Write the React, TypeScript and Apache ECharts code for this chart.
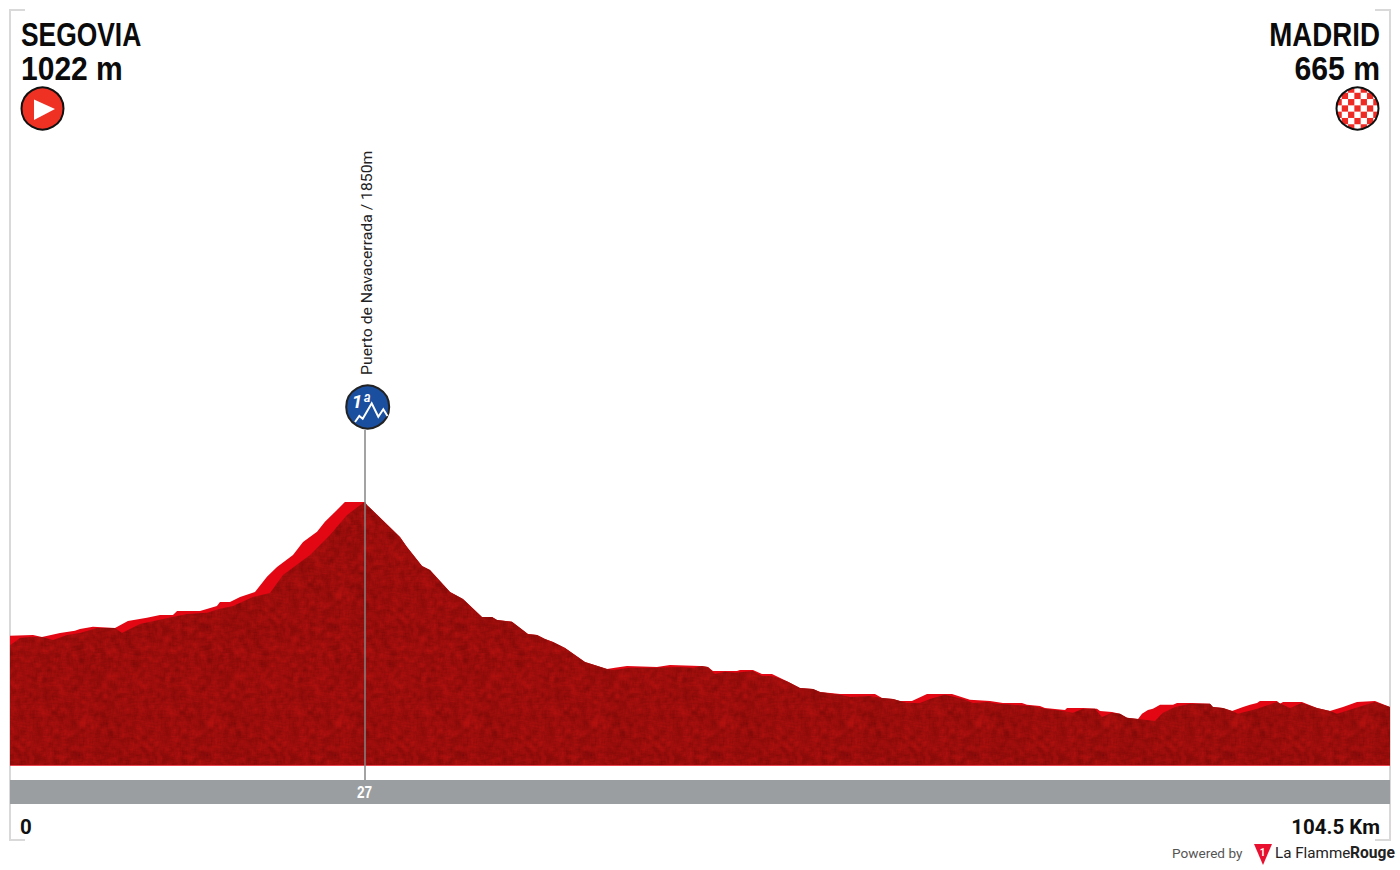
import React, { useEffect, useRef } from "react";
import * as echarts from "echarts";

type Pt = [number, number];

const startName = "SEGOVIA";
const startElevation = "1022 m";
const finishName = "MADRID";
const finishElevation = "665 m";
const climbLabel = "Puerto de Navacerrada / 1850m";
const climbBadge = "1ª";
const climbKmLabel = "27";
const climbKm = 26.88;
const startKmLabel = "0";
const finishKmLabel = "104.5 Km";
const totalKm = 104.5;

const climbBright: Pt[] = [
  [0, 1076], [1.74, 1081], [2.42, 1070], [3.79, 1093], [4.92, 1105], [5.3, 1116], [6.28, 1128], [7.95, 1122],
  [8.93, 1162], [10.37, 1180], [11.36, 1197], [12.34, 1197], [12.65, 1220], [14.39, 1220], [15.67, 1249],
  [15.9, 1272], [16.66, 1272], [17.42, 1301], [18.55, 1330], [19.46, 1417], [20.22, 1474], [21.43, 1544],
  [22.19, 1619], [23.25, 1677], [23.85, 1735], [24.76, 1804], [25.36, 1850], [26.88, 1850],
];
const climbDark: Pt[] = [
  [0, 1022], [0.76, 1064], [1.51, 1070], [2.42, 1070], [3.26, 1052], [4.32, 1081], [5.3, 1093], [6.59, 1122],
  [7.95, 1122], [8.48, 1093], [9.84, 1145], [11.59, 1174], [13.4, 1203], [14.92, 1209], [15.9, 1232],
  [16.89, 1249], [18.4, 1301], [19.69, 1324], [20.67, 1428], [22.72, 1544], [24.23, 1659], [25.52, 1775],
  [26.73, 1844], [26.88, 1850],
];
const descent: Pt[] = [
  [27.03, 1833], [27.64, 1787], [29.53, 1648], [30.06, 1590], [31.2, 1480], [31.8, 1457], [33.32, 1330],
  [34.3, 1289], [35.74, 1185], [36.5, 1185], [36.88, 1168], [38.01, 1157], [39.22, 1087], [39.91, 1081],
  [40.51, 1058], [41.12, 1041], [42.03, 1006], [43.54, 925], [45.21, 885],
];
const flatBright: Pt[] = [
  [45.81, 891], [46.72, 902], [48.99, 896], [49.98, 908], [52.25, 902], [52.85, 896], [53.23, 873], [55.05, 873],
  [55.28, 879], [56.26, 879], [56.94, 856], [57.7, 856], [58.91, 810], [59.82, 775], [60.81, 769], [61.34, 752],
  [62.85, 740], [65.5, 740], [66.03, 717], [66.87, 711], [67.39, 700], [68.3, 700], [69.44, 740], [71.33, 740],
  [72.69, 706], [74.21, 700], [75.19, 688], [76.63, 688], [77.01, 677], [77.99, 671], [78.37, 659], [79.89, 648],
  [80.04, 659], [81.25, 659], [82.31, 654], [82.54, 642], [83.44, 636], [84.05, 625], [84.58, 602], [85.42, 596],
  [85.72, 625], [86.17, 648], [86.55, 654], [87.09, 677], [88.07, 677], [88.37, 688], [89.51, 688], [90.87, 683],
  [91.09, 665], [91.85, 659], [92.54, 642], [93.37, 665], [93.9, 677], [94.43, 688], [94.65, 700], [95.94, 700],
  [96.17, 683], [96.4, 694], [97.83, 694], [98.97, 659], [99.95, 642], [100.94, 665], [102.0, 694], [103.36, 700],
  [104.5, 665],
];
const flatDark: Pt[] = [
  [45.66, 879], [46.95, 891], [48.69, 891], [50.73, 896], [51.72, 891], [52.4, 902], [52.85, 896], [53.39, 856],
  [54.14, 868], [54.9, 862], [56.26, 873], [56.94, 844], [57.55, 844], [57.93, 839], [58.91, 810], [59.82, 775],
  [60.81, 769], [61.34, 752], [62.85, 735], [63.61, 723], [65.12, 729], [66.03, 717], [66.87, 711], [67.92, 688],
  [68.91, 688], [69.66, 711], [70.8, 735], [72.16, 711], [72.92, 688], [73.98, 694], [74.74, 683], [75.95, 677],
  [77.46, 671], [78.37, 654], [79.74, 642], [80.49, 631], [81.25, 654], [82.16, 654], [82.69, 607], [83.44, 631],
  [84.05, 625], [84.58, 602], [85.42, 596], [86.7, 584], [87.31, 631], [88.22, 665], [89.36, 683], [90.87, 683],
  [91.09, 665], [91.85, 659], [92.54, 642], [92.99, 625], [94.43, 654], [95.94, 694], [96.93, 659], [97.83, 688],
  [98.97, 659], [99.95, 642], [100.48, 625], [101.7, 654], [103.36, 694], [104.5, 665],
];

const RED = "#e30613";
const TITLE_FONT = '"Liberation Sans", sans-serif';

// Mottled fill for the dark face of the profile: a fixed hash texture, not data.
function speckleTile(): HTMLCanvasElement {
  const size = 128;
  const c = document.createElement("canvas");
  c.width = size;
  c.height = size;
  const ctx = c.getContext("2d")!;
  const hash = (x: number, y: number) => {
    const v = Math.sin(((x + size) % size) * 12.9898 + ((y + size) % size) * 78.233) * 43758.5453;
    return v - Math.floor(v);
  };
  const img = ctx.createImageData(size, size);
  for (let y = 0; y < size; y++) {
    for (let x = 0; x < size; x++) {
      let sum = 0;
      for (let dy = -2; dy <= 2; dy++) for (let dx = -2; dx <= 2; dx++) sum += hash(x + dx, y + dy);
      const s = (sum / 25 - 0.5) * 130;
      const i = (y * size + x) * 4;
      img.data[i] = 154 + s;
      img.data[i + 1] = 13 + s * 0.15;
      img.data[i + 2] = 11 + s * 0.15;
      img.data[i + 3] = 255;
    }
  }
  ctx.putImageData(img, 0, 0);
  return c;
}

function checkerCells() {
  const cx = 1357.5;
  const cy = 108.5;
  const cell = 6.3;
  const out: any[] = [];
  for (let r = -4; r <= 3; r++) {
    for (let q = -4; q <= 3; q++) {
      if ((r + q) % 2 !== 0) continue;
      const x = cx + q * cell + cell / 2;
      const y = cy + r * cell + cell / 2;
      const nx = Math.max(x - cx, cx - x - cell, 0);
      const ny = Math.max(y - cy, cy - y - cell, 0);
      if (Math.hypot(nx, ny) > 20.5) continue;
      out.push({
        type: "rect",
        shape: { x, y, width: cell, height: cell },
        style: { fill: "#ee2a24" },
        silent: true,
      });
    }
  }
  return out;
}

export default function App() {
  const ref = useRef<HTMLDivElement>(null);
  useEffect(() => {
    const chart = echarts.init(ref.current!, undefined, { renderer: "svg" });
    const frame = "#d9d9d9";
    const seg = (x1: number, y1: number, x2: number, y2: number) => ({
      type: "line",
      shape: { x1, y1, x2, y2 },
      style: { stroke: frame, lineWidth: 2 },
      silent: true,
    });
    const txt = (text: string, x: number, y: number, style: any, extra: any = {}) => ({
      type: "text",
      x,
      y,
      style: { text, verticalAlign: "middle", ...style },
      silent: true,
      ...extra,
    });
    const titleStyle = { fontFamily: TITLE_FONT, fontWeight: "bold", fontSize: 33, fill: "#0b0b0b" };

    chart.setOption({
      animation: false,
      backgroundColor: "#ffffff",
      grid: { left: 10, top: 130, width: 1380, height: 674 },
      xAxis: { type: "value", min: 0, max: totalKm, show: false },
      yAxis: { type: "value", min: 104, max: 4000, show: false },
      series: [
        {
          type: "line",
          name: "bright",
          data: [...climbBright, ...descent, ...flatBright],
          showSymbol: false,
          symbol: "none",
          lineStyle: { width: 0 },
          areaStyle: { color: RED, opacity: 1, origin: 325 },
          z: 2,
        },
        {
          type: "line",
          name: "dark",
          data: [...climbDark, ...descent, ...flatDark],
          showSymbol: false,
          symbol: "none",
          lineStyle: { width: 0 },
          areaStyle: { color: { image: speckleTile(), repeat: "repeat" } as any, opacity: 1, origin: 330 },
          markLine: {
            silent: true,
            symbol: "none",
            label: { show: false },
            lineStyle: { color: "#858585", width: 1.5, type: "solid" },
            data: [[{ coord: [climbKm, 243] }, { coord: [climbKm, 2266] }]],
          },
          z: 3,
        },
      ],
      graphic: [
        seg(10, 10, 10, 841),
        seg(9, 10, 25, 10),
        seg(9, 840, 25, 840),
        seg(1390, 10, 1390, 841),
        seg(1375, 10, 1391, 10),
        seg(1375, 840, 1391, 840),
        { type: "rect", shape: { x: 10, y: 780, width: 1380, height: 24 }, style: { fill: "#9b9ea0" }, silent: true },

        { type: "circle", shape: { cx: 42.5, cy: 108.5, r: 21 }, style: { fill: "#ef3124", stroke: "#111", lineWidth: 2 }, silent: true },
        { type: "polygon", shape: { points: [[34, 99.5], [55, 109], [34, 120]] }, style: { fill: "#fff" }, silent: true },

        ...checkerCells(),
        { type: "ring", shape: { cx: 1357.5, cy: 108.5, r: 31, r0: 21 }, style: { fill: "#fff" }, silent: true },
        { type: "circle", shape: { cx: 1357.5, cy: 108.5, r: 21 }, style: { fill: "none", stroke: "#111", lineWidth: 2 }, silent: true },

        txt(startName, 21, 34.5, { ...titleStyle, align: "left" }, { scaleX: 0.8 }),
        txt(startElevation, 21, 68.5, { ...titleStyle, align: "left" }, { scaleX: 0.91 }),
        txt(finishName, 1380, 34.5, { ...titleStyle, align: "right" }, { scaleX: 0.84 }),
        txt(finishElevation, 1380, 68.5, { ...titleStyle, align: "right" }, { scaleX: 0.915 }),

        { type: "circle", shape: { cx: 367.7, cy: 407, r: 21.5 }, style: { fill: "#1a4e9f", stroke: "#222", lineWidth: 2 }, silent: true },
        {
          type: "polyline",
          shape: { points: [[355, 422], [359.3, 416], [362.7, 418.7], [371.7, 403.3], [378.3, 416.7], [383.3, 409.3], [387.5, 416]] },
          style: { stroke: "#fff", fill: "none", lineWidth: 2 },
          silent: true,
        },
        txt(climbBadge, 361, 401, { fontFamily: "Roboto", fontStyle: "italic", fontWeight: "bold", fontSize: 19, fill: "#fff", align: "center" }),
        txt(climbLabel, 367, 375, { fontFamily: "Roboto", fontSize: 14.3, fill: "#222", align: "left" }, { rotation: Math.PI / 2, scaleX: 1.105 }),

        txt(climbKmLabel, 364.5, 792.5, { fontFamily: TITLE_FONT, fontWeight: "bold", fontSize: 16, fill: "#fff", align: "center" }, { scaleX: 0.85 }),
        txt(startKmLabel, 20, 827, { fontFamily: "Roboto", fontWeight: "bold", fontSize: 20.5, fill: "#111", align: "left" }),
        txt(finishKmLabel, 1380, 827, { fontFamily: "Roboto", fontWeight: "bold", fontSize: 20.5, fill: "#111", align: "right" }),

        txt("Powered by", 1172, 853, { fontFamily: "Roboto", fontSize: 13.6, fill: "#555", align: "left" }),
        { type: "polygon", shape: { points: [[1254, 844], [1272, 844], [1263, 865]] }, style: { fill: "#e8102e" }, silent: true },
        txt("1", 1262.5, 852, { fontFamily: "Roboto", fontWeight: "bold", fontSize: 10, fill: "#fff", align: "center" }),
        txt("La Flamme", 1275, 853, { fontFamily: "Roboto", fontSize: 15.2, fill: "#222", align: "left" }),
        txt("Rouge", 1350, 853, { fontFamily: "Roboto", fontWeight: "bold", fontSize: 15.6, fill: "#222", align: "left" }),
      ],
    });
    return () => chart.dispose();
  }, []);
  return <div ref={ref} style={{ position: "absolute", left: 0, top: 0, width: 1400, height: 870 }} />;
}
